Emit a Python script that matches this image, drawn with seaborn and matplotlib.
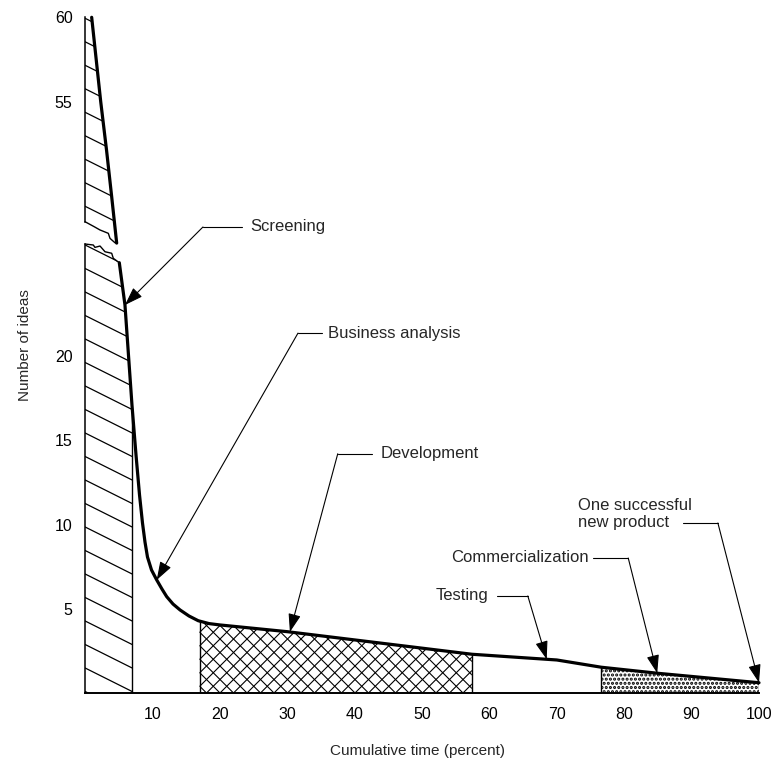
import numpy as np
import matplotlib
matplotlib.use("Agg")
import matplotlib.pyplot as plt
import seaborn as sns
import pandas as pd

# ---------------- data ----------------
# upper (broken) part of the decay curve
time_upper = [0.99, 2.33, 3.2, 3.96, 4.7]
ideas_upper = [60.0, 55.0, 52.1, 49.35, 46.6]
# lower part of the decay curve
time_lower = [5.09, 5.93, 6.45, 6.97, 7.57, 8.09, 8.53, 8.9, 9.27, 9.87, 10.64,
              11.42, 12.12, 13.06, 14.1, 15.43, 16.8, 18.4, 20.0, 30.0, 57.4,
              70.0, 76.6, 85.0, 100.0]
ideas_lower = [25.54, 23.03, 20.06, 17.09, 14.12, 11.75, 10.09, 8.96, 8.07, 7.3, 6.71,
               6.17, 5.72, 5.28, 4.93, 4.57, 4.29, 4.12, 4.04, 3.64, 2.3,
               1.96, 1.53, 1.17, 0.61]

# stage boundaries (cumulative time, percent)
stage_edges = [7.0, 17.0, 57.4, 76.6, 100.0]

# torn edges of the axis break
tear_upper_x = [0.0, 1.38, 2.22, 3.46, 3.71, 4.45, 4.7]
tear_upper_y = [47.87, 47.57, 47.38, 47.18, 46.88, 46.62, 46.6]
tear_lower_x = [0.0, 1.23, 1.48, 2.23, 2.97, 3.96, 4.2, 5.09]
tear_lower_y = [26.65, 26.59, 26.45, 26.53, 26.19, 26.1, 25.8, 25.54]

x_ticks = [10, 20, 30, 40, 50, 60, 70, 80, 90, 100]
y_ticks_lower = [5, 10, 15, 20]
y_ticks_upper = [55, 60]

# annotations: label, text position, leader dash (x0..x1 at y), elbow x, tip x
ann_labels = ["Screening", "Business analysis", "Development", "Testing",
              "Commercialization", "One successful\nnew product"]
ann_text_x = [24.5, 36.05, 43.8, 52.0, 54.3, 73.2]
ann_text_y = [27.66, 21.36, 14.2, 5.8, 8.05, 10.62]
ann_dash_x0 = [17.5, 31.6, 37.5, 61.1, 75.4, 88.7]
ann_dash_x1 = [23.3, 35.2, 42.6, 65.7, 80.6, 93.9]
ann_dash_y = [27.66, 21.36, 14.2, 5.76, 8.01, 10.09]
ann_elbow_x = [17.5, 31.6, 37.5, 65.7, 80.6, 93.9]
ann_tip_x = [5.93, 10.64, 30.4, 68.5, 84.9, 100.0]

# ---------------- style ----------------
sns.set_style("white")
plt.rcParams['font.family'] = ['Liberation Sans', 'DejaVu Sans']
plt.rcParams['hatch.linewidth'] = 1.5

FW, FH = 778, 763
fig = plt.figure(figsize=(FW / 100, FH / 100), dpi=100)
L, W = 85 / FW, 674 / FW
ax_lo = fig.add_axes([L, (FH - 693) / FH, W, 449 / FH])
ax_hi = fig.add_axes([L, (FH - 243.1) / FH, W, 225.8 / FH])
for ax in (ax_lo, ax_hi):
    ax.set_facecolor('none')

ax_lo.set_xlim(0, 100)
ax_hi.set_xlim(0, 100)
ax_lo.set_ylim(0, 26.65)
ax_hi.set_ylim(46.6, 60)

df_lo = pd.DataFrame({"t": time_lower, "n": ideas_lower})
df_hi = pd.DataFrame({"t": time_upper, "n": ideas_upper})


def curve(x):
    return np.interp(x, time_lower, ideas_lower)


def line_hatch(ax, poly, slope_px, step_px, phase, lw=0.9):
    """Parallel hatch lines (slope given in pixel units) clipped to a region."""
    bb = ax.get_position()
    px_x = bb.width * FW / (ax.get_xlim()[1] - ax.get_xlim()[0])
    px_y = bb.height * FH / (ax.get_ylim()[1] - ax.get_ylim()[0])
    k = slope_px * px_x / px_y
    step = step_px / px_y
    path = poly.get_paths()[0]
    ext = path.get_extents()
    x0, x1, y0, y1 = ext.x0, ext.x1, ext.y0, ext.y1
    cands = [y0 - k * x0, y0 - k * x1, y1 - k * x0, y1 - k * x1]
    cmin, cmax = min(cands), max(cands)
    n0 = np.floor((cmin - phase) / step) - 1
    n1 = np.ceil((cmax - phase) / step) + 1
    for n in np.arange(n0, n1 + 1):
        c = phase + n * step
        ln, = ax.plot([x0, x1], [c + k * x0, c + k * x1], color='black', lw=lw)
        ln.set_clip_path(path, ax.transData)


# --- screening, lower part ---
xs = np.union1d(tear_lower_x, [t for t in time_lower if t <= stage_edges[0]] + [stage_edges[0]])
ys = np.where(xs <= tear_lower_x[-1], np.interp(xs, tear_lower_x, tear_lower_y), curve(xs))
poly_lo = ax_lo.fill_between(xs, 0, ys, facecolor='white', edgecolor='none', lw=0)
line_hatch(ax_lo, poly_lo, -0.5, 23.5, 25.2)
ax_lo.plot(tear_lower_x, tear_lower_y, color='black', lw=1.0, clip_on=False)

# --- screening, upper part ---
xu = np.union1d(tear_upper_x, time_upper + [0.0])
top = np.where(xu <= time_upper[0], 60.0, np.interp(xu, time_upper, ideas_upper))
bot = np.interp(xu, tear_upper_x, tear_upper_y)
poly_hi = ax_hi.fill_between(xu, bot, top, facecolor='white', edgecolor='none', lw=0)
line_hatch(ax_hi, poly_hi, -0.5, 23.5, 58.55)
ax_hi.plot(tear_upper_x, tear_upper_y, color='black', lw=1.0, clip_on=False)


def segment(a, b):
    x = np.array([a] + [t for t in time_lower if a < t < b] + [b])
    return x, curve(x)


# --- development (cross hatch) ---
xd, yd = segment(stage_edges[1], stage_edges[2])
poly_dev = ax_lo.fill_between(xd, 0, yd, facecolor='white', edgecolor='none', lw=0)
line_hatch(ax_lo, poly_dev, 1.0, 13.5, 0.0, lw=0.8)
line_hatch(ax_lo, poly_dev, -1.0, 13.5, 0.0, lw=0.8)
# --- commercialization (stipple) ---
xc, yc = segment(stage_edges[3], stage_edges[4])
ax_lo.fill_between(xc, 0, yc, facecolor='white', edgecolor='black', hatch='....', lw=0)

# stage boundary lines
ax_lo.vlines(stage_edges, 0, curve(stage_edges), color='black', lw=1.0)

# the decay curve
sns.lineplot(data=df_lo, x="t", y="n", ax=ax_lo, color='black', lw=2.3, sort=False,
             estimator=None, clip_on=False)
sns.lineplot(data=df_hi, x="t", y="n", ax=ax_hi, color='black', lw=2.3, sort=False,
             estimator=None, clip_on=False)

# ---------------- axes ----------------
for ax in (ax_lo, ax_hi):
    ax.set_xlabel("")
    ax.set_ylabel("")
    ax.spines['right'].set_visible(False)
    ax.spines['top'].set_visible(False)
    ax.spines['left'].set_linewidth(1.1)
    ax.spines['left'].set_color('black')
    ax.tick_params(direction='in', length=11, width=0.9, colors='black',
                   labelsize=11.5, pad=9)
ax_hi.spines['bottom'].set_visible(False)
ax_hi.spines['left'].set_bounds(tear_upper_y[0], 60)
ax_lo.spines['left'].set_bounds(0, tear_lower_y[0])
ax_lo.spines['bottom'].set_linewidth(1.4)
ax_lo.spines['bottom'].set_color('black')

ax_lo.set_xticks(x_ticks)
ax_lo.set_xticklabels([str(v) for v in x_ticks])
ax_lo.set_yticks(y_ticks_lower)
ax_lo.set_yticklabels([str(v) for v in y_ticks_lower])
ax_hi.set_xticks([])
ax_hi.set_yticks(y_ticks_upper)
ax_hi.set_yticklabels([str(v) for v in y_ticks_upper])
ax_lo.tick_params(axis='x', pad=10)

fig.text(25 / FW, 1 - 345 / FH, "Number of ideas", rotation=90, ha='center',
         va='center', fontsize=11)
fig.text(417 / FW, 1 - 751 / FH, "Cumulative time (percent)", ha='center',
         va='center', fontsize=11)

# ---------------- annotations ----------------
for lab, tx, ty, d0, d1, dy, ex, tip in zip(ann_labels, ann_text_x, ann_text_y,
                                           ann_dash_x0, ann_dash_x1, ann_dash_y,
                                           ann_elbow_x, ann_tip_x):
    ax_lo.text(tx, ty, lab, ha='left', va='center', fontsize=12,
               linespacing=1.1, clip_on=False)
    ax_lo.plot([d0, d1], [dy, dy], color='black', lw=0.8, clip_on=False)
    ax_lo.annotate('', xy=(tip, curve(tip)), xytext=(ex, dy),
                   arrowprops=dict(arrowstyle='-|>,head_length=0.7,head_width=0.24',
                                   lw=0.8, color='black', shrinkA=0, shrinkB=0,
                                   mutation_scale=16),
                   annotation_clip=False)

fig.savefig("out.png", dpi=100, facecolor='white')
